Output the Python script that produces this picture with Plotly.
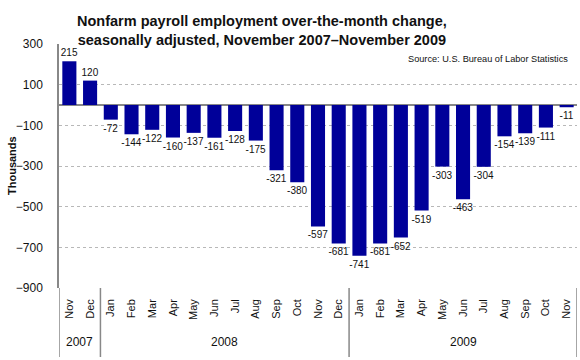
import plotly.graph_objects as go

months = ["Nov", "Dec",
          "Jan", "Feb", "Mar", "Apr", "May", "Jun", "Jul", "Aug", "Sep", "Oct", "Nov", "Dec",
          "Jan", "Feb", "Mar", "Apr", "May", "Jun", "Jul", "Aug", "Sep", "Oct", "Nov"]
values = [215, 120,
          -72, -144, -122, -160, -137, -161, -128, -175, -321, -380, -597, -681,
          -741, -681, -652, -519, -303, -463, -304, -154, -139, -111, -11]
years = ["2007", "2008", "2009"]
year_counts = [2, 12, 11]
y_ticks = [300, 100, -100, -300, -500, -700, -900]

idx = list(range(len(months)))
FONT = "Arial, Liberation Sans, sans-serif"

fig = go.Figure()
fig.add_trace(go.Bar(
    x=idx, y=values,
    marker=dict(color="#000099", line=dict(width=0)),
    text=[str(v) for v in values],
    textposition="outside",
    constraintext="none",
    textfont=dict(family=FONT, size=10, color="#111"),
    cliponaxis=False,
    width=0.68,
    hoverinfo="skip",
))

L, R, T, B = 59, 3, 44, 72
W, H = 580, 360
pw, ph = W - L - R, H - T - B

fig.update_layout(
    width=W, height=H,
    margin=dict(l=L, r=R, t=T, b=B),
    paper_bgcolor="white", plot_bgcolor="white",
    showlegend=False,
    font=dict(family=FONT, color="#111"),
    xaxis=dict(
        range=[-0.5, len(months) - 0.5],
        tickmode="array", tickvals=idx, ticktext=months,
        tickangle=-90,
        tickfont=dict(size=11, family=FONT, color="#111"),
        showgrid=False, zeroline=False, showline=False,
        ticks="", ticklabelstandoff=8,
    ),
    yaxis=dict(
        range=[-900, 300],
        tickmode="array", tickvals=y_ticks,
        tickfont=dict(size=12, family=FONT, color="#111"),
        showgrid=True, gridcolor="#b8b8b8", griddash="dot", gridwidth=1,
        zeroline=True, zerolinecolor="#888888", zerolinewidth=1.5,
        showline=True, linecolor="#888888", linewidth=1.5,
        ticks="", ticklabelstandoff=12,
    ),
)

# Title (two lines)
fig.add_annotation(
    text="<b>Nonfarm payroll employment over-the-month change,<br>seasonally adjusted, November 2007\u2013November 2009</b>",
    xref="paper", yref="paper", x=(262 - L) / pw, y=1 + (T - 30) / ph,
    xanchor="center", yanchor="middle", showarrow=False,
    font=dict(size=14.5, family=FONT, color="#111"),
)

# Y axis title
fig.add_annotation(
    text="<b>Thousands</b>", textangle=-90,
    xref="paper", yref="paper", x=(12 - L) / pw, y=0.5,
    xanchor="center", yanchor="middle", showarrow=False,
    font=dict(size=11, family=FONT, color="#111"),
)

# Source note
fig.add_annotation(
    text="Source: U.S. Bureau of Labor Statistics",
    xref="paper", yref="paper", x=(570 - L) / pw, y=1 - (59 - T) / ph,
    xanchor="right", yanchor="middle", showarrow=False,
    font=dict(size=9.2, family=FONT, color="#111"),
)

# Year group labels and separators
line_bottom = -(357 - (H - B)) / ph
start = 0
bounds = [-0.5]
for yr, cnt in zip(years, year_counts):
    end = start + cnt
    fig.add_annotation(
        text=yr, xref="x", yref="paper",
        x=(start + end - 1) / 2, y=-(342 - (H - B)) / ph,
        xanchor="center", yanchor="middle", showarrow=False,
        font=dict(size=12, family=FONT, color="#111"),
    )
    bounds.append(end - 0.5)
    start = end

for b in bounds:
    fig.add_shape(
        type="line", xref="x", yref="paper",
        x0=b, x1=b, y0=0, y1=line_bottom,
        line=dict(color="#888888", width=1.5),
    )

fig.write_html("out.html", config={"displayModeBar": False},
               post_script="document.body.style.margin='0';")
